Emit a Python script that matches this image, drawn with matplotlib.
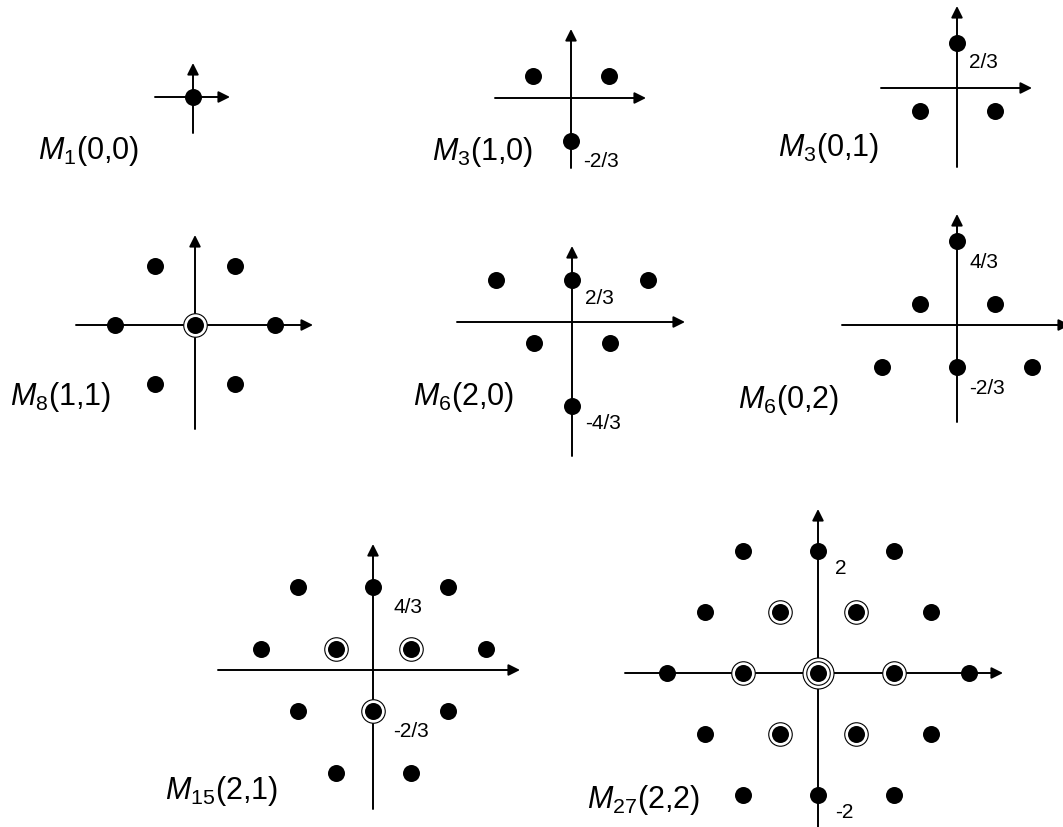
import matplotlib
matplotlib.use("Agg")
import matplotlib.pyplot as plt

plt.rcParams['font.family'] = ['Liberation Sans', 'DejaVu Sans']
plt.rcParams['mathtext.fontset'] = 'custom'
plt.rcParams['mathtext.rm'] = 'Liberation Sans'
plt.rcParams['mathtext.it'] = 'Liberation Sans:italic'

# weights (I3, Y) and multiplicities of each SU(3) multiplet
m1_i3 = [0]
m1_y = [0]
m1_mult = [1]

m3_i3 = [-0.5, 0.5, 0]
m3_y = [1/3, 1/3, -2/3]
m3_mult = [1, 1, 1]

m3b_i3 = [0, -0.5, 0.5]
m3b_y = [2/3, -1/3, -1/3]
m3b_mult = [1, 1, 1]

m8_i3 = [-0.5, 0.5, -1, 0, 1, -0.5, 0.5]
m8_y = [1, 1, 0, 0, 0, -1, -1]
m8_mult = [1, 1, 1, 2, 1, 1, 1]

m6_i3 = [-1, 0, 1, -0.5, 0.5, 0]
m6_y = [2/3, 2/3, 2/3, -1/3, -1/3, -4/3]
m6_mult = [1, 1, 1, 1, 1, 1]

m6b_i3 = [0, -0.5, 0.5, -1, 0, 1]
m6b_y = [4/3, 1/3, 1/3, -2/3, -2/3, -2/3]
m6b_mult = [1, 1, 1, 1, 1, 1]

m15_i3 = [-1, 0, 1, -1.5, -0.5, 0.5, 1.5, -1, 0, 1, -0.5, 0.5]
m15_y = [4/3] * 3 + [1/3] * 4 + [-2/3] * 3 + [-5/3] * 2
m15_mult = [1, 1, 1, 1, 2, 2, 1, 1, 2, 1, 1, 1]

m27_i3 = [-1, 0, 1, -1.5, -0.5, 0.5, 1.5, -2, -1, 0, 1, 2,
          -1.5, -0.5, 0.5, 1.5, -1, 0, 1]
m27_y = [2] * 3 + [1] * 4 + [0] * 5 + [-1] * 4 + [-2] * 3
m27_mult = [1, 1, 1, 1, 2, 2, 1, 1, 2, 3, 2, 1, 1, 2, 2, 1, 1, 1, 1]

titles = [r'$M_{1}$(0,0)', r'$M_{3}$(1,0)', r'$M_{3}$(0,1)', r'$M_{8}$(1,1)',
          r'$M_{6}$(2,0)', r'$M_{6}$(0,2)', r'$M_{15}$(2,1)', r'$M_{27}$(2,2)']

# y-axis value labels per panel
ylabels = [[], [(-2/3, '-2/3')], [(2/3, '2/3')], [],
           [(2/3, '2/3'), (-4/3, '-4/3')], [(4/3, '4/3'), (-2/3, '-2/3')],
           [(4/3, '4/3'), (-2/3, '-2/3')], [(2, '2'), (-2, '-2')]]

W, H = 1063, 828
fig = plt.figure(figsize=(W / 100, H / 100), dpi=100)

# layout: centre px, px per unit (I3, Y), axis extents px (left, right, up, down),
# title position px, value label offset px
panels = [
    dict(c=(193, 98), s=(76, 60), ext=(38, 37, 34, 36), t=(38, 151), off=(12, -19)),
    dict(c=(571, 99), s=(76, 65), ext=(76, 75, 69, 70), t=(432, 152), off=(12, -19)),
    dict(c=(957, 89), s=(75, 68), ext=(76, 75, 82, 79), t=(778, 148), off=(12, -19)),
    dict(c=(195, 326), s=(80, 59), ext=(119, 118, 90, 104), t=(10, 397), off=(12, -19)),
    dict(c=(572, 323), s=(76, 63), ext=(115, 113, 76, 134), t=(413, 397), off=(13, -17)),
    dict(c=(957, 326), s=(75, 63), ext=(115, 113, 111, 97), t=(738, 400), off=(12, -20)),
    dict(c=(373, 671), s=(75, 62), ext=(155, 147, 126, 139), t=(165, 791), off=(20, -19)),
    dict(c=(818, 674), s=(75.5, 61), ext=(193, 185, 164, 170), t=(587, 800), off=(17, -17)),
]
data = [(m1_i3, m1_y, m1_mult), (m3_i3, m3_y, m3_mult), (m3b_i3, m3b_y, m3b_mult),
        (m8_i3, m8_y, m8_mult), (m6_i3, m6_y, m6_mult), (m6b_i3, m6b_y, m6b_mult),
        (m15_i3, m15_y, m15_mult), (m27_i3, m27_y, m27_mult)]

dot_s = (17 * 0.72) ** 2
ring2_s = (23.5 * 0.72) ** 2
ring3_s = (31 * 0.72) ** 2

for p, (xi, yi, mi), title, yl in zip(panels, data, titles, ylabels):
    cx, cy = p['c']
    sx, sy = p['s']
    half_w, half_h = 200, 180
    ax = fig.add_axes([(cx - half_w) / W, 1 - (cy + half_h) / H,
                       2 * half_w / W, 2 * half_h / H])
    ax.set_xlim(-half_w / sx, half_w / sx)
    ax.set_ylim(-half_h / sy, half_h / sy)
    ax.axis('off')
    ax.patch.set_alpha(0)

    l, r, u, d = p['ext']
    arr = dict(arrowstyle='-|>', lw=1.4, color='black', mutation_scale=17,
               shrinkA=0, shrinkB=0)
    ax.annotate('', xy=(r / sx, 0), xytext=(-l / sx, 0), arrowprops=arr,
                annotation_clip=False, zorder=1)
    ax.annotate('', xy=(0, u / sy), xytext=(0, -d / sy), arrowprops=arr,
                annotation_clip=False, zorder=1)

    # outer rings for multiplicity 3, single ring for multiplicity >= 2
    x3 = [x for x, m in zip(xi, mi) if m >= 3]
    y3 = [y for y, m in zip(yi, mi) if m >= 3]
    if x3:
        ax.scatter(x3, y3, s=ring3_s, facecolor='white', edgecolor='black',
                   linewidths=0.8, zorder=2, clip_on=False)
    x2 = [x for x, m in zip(xi, mi) if m >= 2]
    y2 = [y for y, m in zip(yi, mi) if m >= 2]
    if x2:
        ax.scatter(x2, y2, s=ring2_s, facecolor='white', edgecolor='black',
                   linewidths=0.8, zorder=3, clip_on=False)
    ax.scatter(xi, yi, s=dot_s, color='black', linewidths=0, zorder=4, clip_on=False)

    for yv, txt in yl:
        ax.annotate(txt, xy=(0, yv), xytext=p['off'], textcoords='offset pixels',
                    fontsize=15, ha='left', va='center', annotation_clip=False)

    fig.text(p['t'][0] / W, 1 - p['t'][1] / H, title, fontsize=22,
             ha='left', va='center')

fig.savefig('out.png', dpi=100)
